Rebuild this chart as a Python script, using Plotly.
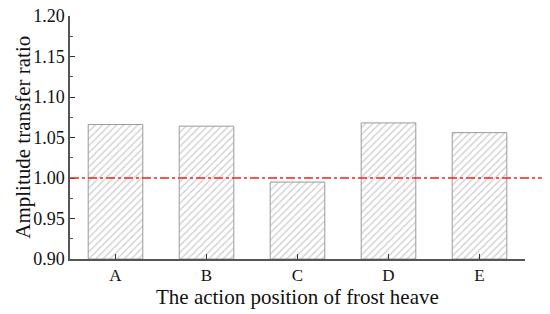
import plotly.graph_objects as go

# frost heave action positions and amplitude transfer ratios
positions = ["A", "B", "C", "D", "E"]
ratios = [1.066, 1.064, 0.995, 1.068, 1.056]
y_ticks = [0.90, 0.95, 1.00, 1.05, 1.10, 1.15, 1.20]
reference_ratio = 1.00

font_family = "Liberation Serif, Times New Roman, serif"

fig = go.Figure()
fig.add_trace(go.Bar(
    x=positions,
    y=[r - 0.90 for r in ratios],
    base=0.90,
    width=0.6,
    marker=dict(
        color="white",
        line=dict(color="#9a9a9a", width=1),
        pattern=dict(shape="/", fgcolor="#999999", bgcolor="white",
                     size=5, solidity=0.25),
    ),
    showlegend=False,
))

# dash-dot reference line at ratio 1.0 (runs a bit past the plot area)
fig.add_shape(type="line", xref="paper", yref="y",
              x0=0, x1=1.037, y0=reference_ratio, y1=reference_ratio,
              line=dict(color="#ff1a1a", width=1.5, dash="dashdot"))

# axis titles placed by hand
fig.add_annotation(text="The action position of frost heave",
                   xref="paper", yref="paper", x=0.5, y=-0.157,
                   xanchor="center", yanchor="middle", showarrow=False,
                   font=dict(size=21))
fig.add_annotation(text="Amplitude transfer ratio",
                   xref="paper", yref="paper", x=-0.105, y=0.5,
                   xanchor="center", yanchor="middle", showarrow=False,
                   textangle=-90, font=dict(size=21))

fig.update_layout(
    width=550, height=314,
    margin=dict(l=70, r=25, t=16, b=55, autoexpand=False),
    plot_bgcolor="white", paper_bgcolor="white",
    font=dict(family=font_family, color="#111"),
    bargap=0.4,
)
fig.update_xaxes(
    range=[-0.5, 4.5],
    showline=True, linecolor="#555", linewidth=1.5,
    ticks="inside", ticklen=5, tickcolor="#333",
    tickfont=dict(size=17),
    showgrid=False, zeroline=False, automargin=False,
)
fig.update_yaxes(
    range=[0.90, 1.20],
    tickvals=y_ticks,
    ticktext=[f"{v:.2f}" for v in y_ticks],
    showline=True, linecolor="#555", linewidth=1.5,
    ticks="inside", ticklen=5, tickcolor="#333",
    minor=dict(ticks="inside", ticklen=3, dtick=0.025, tickcolor="#555"),
    tickfont=dict(size=18),
    ticklabeloverflow="allow",
    showgrid=False, zeroline=False, automargin=False,
)

# drop the page's default body margin so the figure sits at the window corner
fig.write_html("out.html", config={"displayModeBar": False},
               post_script="document.body.style.margin='0';")
